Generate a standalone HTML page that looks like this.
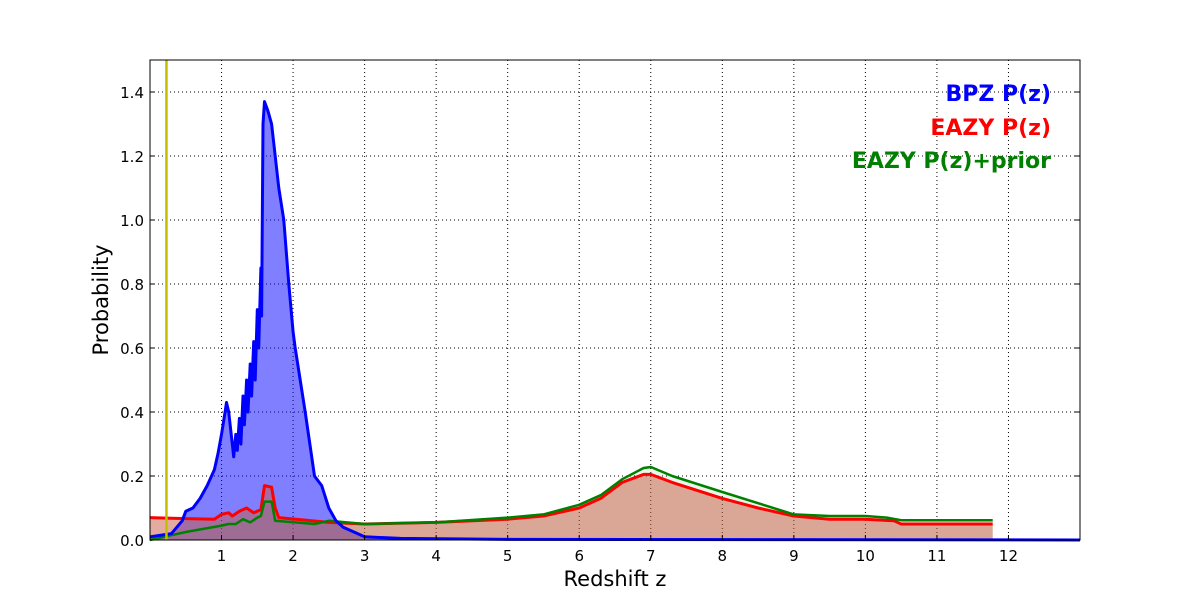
<!DOCTYPE html>
<html><head><meta charset="utf-8"><style>
body{margin:0;background:#fff;}
svg{display:block;font-family:"DejaVu Sans","Liberation Sans",sans-serif;}
</style></head><body>
<svg id="chart" width="1200" height="600" xmlns="http://www.w3.org/2000/svg">
<g id="grid"></g>
<g id="series"></g>
<rect x="150" y="60" width="930" height="480" fill="none" stroke="#000" stroke-width="1"/>
<g id="ticks"></g>
<text x="615" y="586" font-size="21" text-anchor="middle">Redshift z</text>
<text transform="translate(108,300) rotate(-90)" font-size="21" text-anchor="middle">Probability</text>
<g font-weight="bold" font-size="22" text-anchor="end">
<text x="1051" y="101" fill="#0000ff">BPZ P(z)</text>
<text x="1051" y="135" fill="#ff0000">EAZY P(z)</text>
<text x="1051" y="168" fill="#008000">EAZY P(z)+prior</text>
</g>
</svg>
<script>
const xTicks=[1,2,3,4,5,6,7,8,9,10,11,12];
const yTicks=[0.0,0.2,0.4,0.6,0.8,1.0,1.2,1.4];
const markerZ=0.23;
const bpzZ=[0,0.3,0.45,0.5,0.6,0.7,0.8,0.9,0.95,1.0,1.05,1.07,1.1,1.15,1.17,1.2,1.22,1.25,1.27,1.3,1.32,1.35,1.37,1.4,1.42,1.45,1.47,1.5,1.52,1.55,1.56,1.58,1.6,1.65,1.7,1.75,1.8,1.87,1.94,2.0,2.03,2.1,2.17,2.3,2.4,2.5,2.6,2.7,2.8,3.0,3.5,5,13];
const bpzP=[0.01,0.02,0.06,0.09,0.1,0.13,0.17,0.22,0.27,0.33,0.4,0.43,0.4,0.3,0.26,0.33,0.28,0.38,0.3,0.45,0.36,0.5,0.4,0.55,0.45,0.62,0.5,0.72,0.6,0.85,0.7,1.3,1.37,1.34,1.3,1.2,1.1,1.0,0.8,0.65,0.6,0.5,0.4,0.2,0.17,0.1,0.06,0.04,0.03,0.01,0.005,0.002,0];
const eazyZ=[0,0.3,0.9,1.0,1.1,1.15,1.25,1.35,1.45,1.55,1.6,1.7,1.75,1.8,2.5,3,4,5,5.5,6,6.3,6.6,6.9,7.0,7.3,8,8.5,9,9.5,10,10.4,10.5,11.78];
const eazyP=[0.07,0.068,0.065,0.08,0.085,0.075,0.09,0.1,0.085,0.095,0.17,0.165,0.1,0.07,0.055,0.05,0.055,0.065,0.075,0.1,0.13,0.18,0.205,0.205,0.18,0.13,0.1,0.075,0.065,0.065,0.06,0.05,0.05];
const priorZ=[0,0.3,0.5,1.0,1.1,1.2,1.3,1.4,1.5,1.55,1.6,1.7,1.75,2.3,2.5,3,4,5,5.5,6,6.3,6.6,6.9,7.0,7.3,8,8.5,9,9.5,10,10.3,10.5,11.78];
const priorP=[0,0.015,0.025,0.045,0.05,0.05,0.065,0.055,0.07,0.075,0.12,0.12,0.06,0.05,0.06,0.05,0.055,0.07,0.08,0.11,0.14,0.19,0.225,0.228,0.2,0.15,0.115,0.08,0.075,0.075,0.07,0.062,0.062];
const NS="http://www.w3.org/2000/svg";
const X0=150,X1=1080,Y0=540,Y1=60,XMAX=13,YMAX=1.5;
function sx(z){return X0+z/XMAX*(X1-X0);}
function sy(p){return Y0-p/YMAX*(Y0-Y1);}
function mk(tag,attrs,parent){const e=document.createElementNS(NS,tag);for(const k in attrs)e.setAttribute(k,attrs[k]);parent.appendChild(e);return e;}
const grid=document.getElementById('grid'),ticks=document.getElementById('ticks'),ser=document.getElementById('series');
xTicks.forEach(t=>{const x=sx(t);
 const g=mk('line',{x1:x,x2:x,y1:Y1,y2:Y0,stroke:'#000','stroke-dasharray':'1,3','stroke-width':1},grid);
 
 
 const tk=mk('line',{x1:x,x2:x,y1:Y0,y2:Y0-5,stroke:'#000'},ticks);
 
 
 const l=mk('text',{x:x,y:Y0+21,'font-size':15,'text-anchor':'middle'},ticks);l.textContent=t;
 
 
});
yTicks.forEach(t=>{const y=sy(t);
 if(t>0){const g=mk('line',{x1:X0,x2:X1,y1:y,y2:y,stroke:'#000','stroke-dasharray':'1,3','stroke-width':1},grid);
 
 }
 const tk=mk('line',{x1:X0,x2:X0+5,y1:y,y2:y,stroke:'#000'},ticks);
 
 
 const tk2=mk('line',{x1:X1,x2:X1-5,y1:y,y2:y,stroke:'#000'},ticks);
 
 
 const l=mk('text',{x:X0-6,y:y+6,'font-size':15,'text-anchor':'end'},ticks);l.textContent=t.toFixed(1);
 
 
});
function pts(zs,ps){return zs.map((z,i)=>sx(z).toFixed(1)+','+sy(ps[i]).toFixed(1)).join(' ');}
function area(zs,ps,fill,name){const d='M'+sx(zs[0])+','+Y0+' L'+pts(zs,ps)+' L'+sx(zs[zs.length-1])+','+Y0+' Z';
 const a=mk('path',{d:d,fill:fill,stroke:'none'},ser);
 
 }
function line(zs,ps,col,w,name){const l=mk('polyline',{points:pts(zs,ps),fill:'none',stroke:col,'stroke-width':w,'stroke-linejoin':'round'},ser);
 
 }
area(bpzZ,bpzP,'rgba(0,0,255,0.5)','bpz-area');
area(priorZ,priorP,'rgba(0,128,0,0.08)','eazy-prior-area');
area(eazyZ,eazyP,'rgba(201,89,65,0.5)','eazy-area');
line(eazyZ,eazyP,'#ff0000',3,'eazy-line');
line(priorZ,priorP,'#008000',2.5,'eazy-prior-line');
line(bpzZ,bpzP,'#0000ff',3,'bpz-line');
const m=mk('line',{x1:sx(markerZ),x2:sx(markerZ),y1:Y1,y2:Y0,stroke:'#bfbf00','stroke-width':2.5},ser);


</script>
</body></html>
